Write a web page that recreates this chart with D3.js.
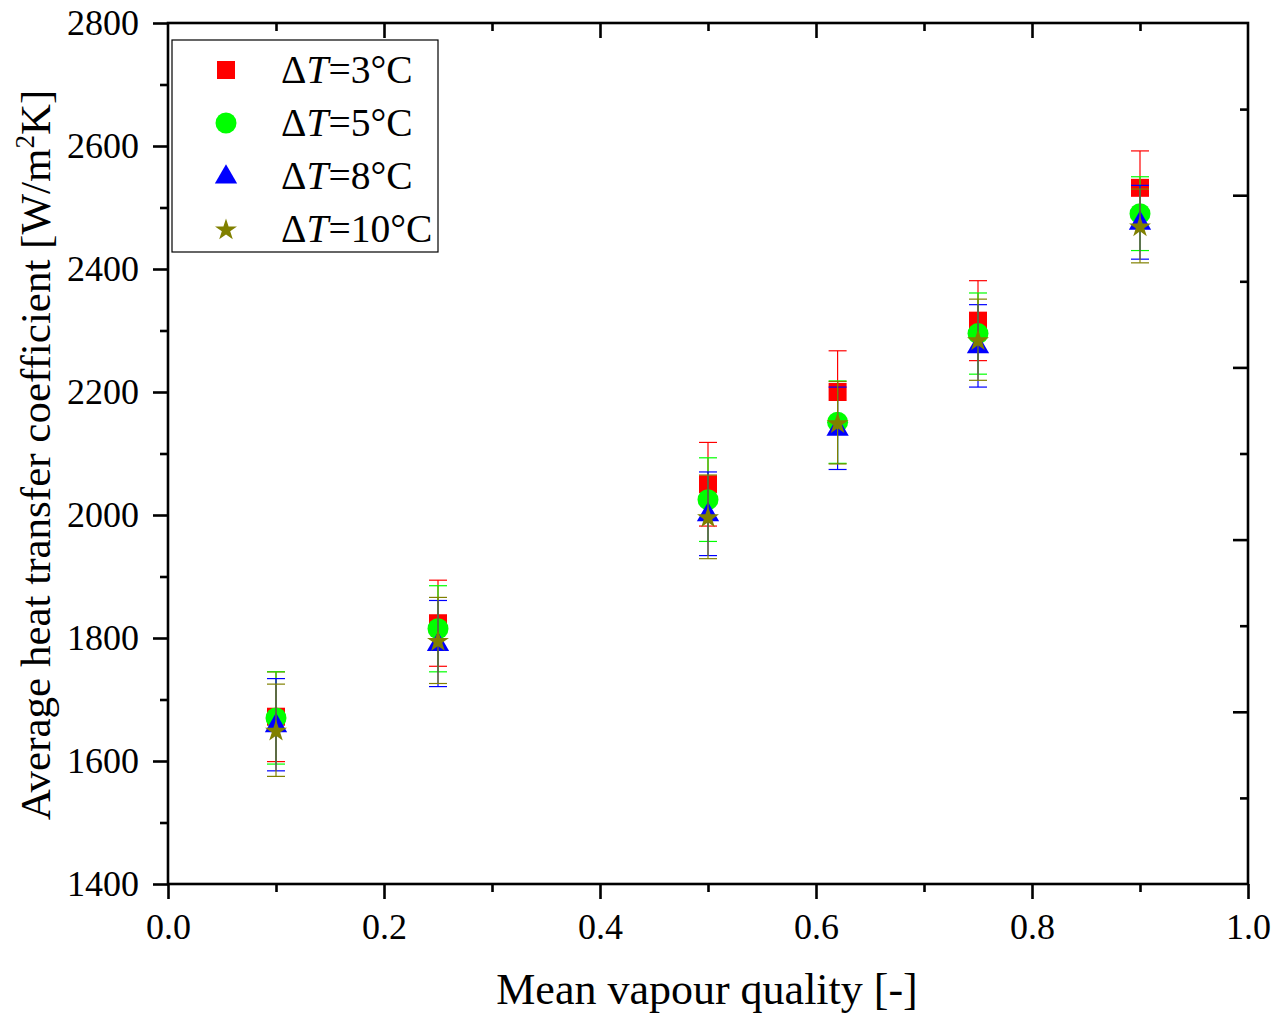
<!DOCTYPE html>
<html>
<head>
<meta charset="utf-8">
<script src="https://cdn.jsdelivr.net/npm/d3@7"></script>
<style>
  html, body { margin: 0; padding: 0; background: #fff; }
  svg { display: block; font-family: "Liberation Serif", "Times New Roman", serif; }
</style>
</head>
<body>
<svg id="chart" width="1287" height="1017"></svg>
<script>
// Mean vapour quality at each measuring point
const quality = [0.1, 0.25, 0.5, 0.62, 0.75, 0.9];

// Average heat transfer coefficient [W/m²K] for each wall superheat
const htc3  = [1672, 1824, 2050, 2200, 2316, 2532];
const htc5  = [1670, 1815, 2025, 2151, 2295, 2490];
const htc8  = [1659, 1791, 2002, 2141, 2275, 2476];
const htc10 = [1650, 1796, 1997, 2150, 2285, 2470];

// Measurement uncertainty (±) of each point
const err3  = [73, 70, 68, 67, 65, 60];
const err5  = [75, 70, 68, 67, 66, 60];
const err8  = [75, 70, 68, 67, 67, 60];
const err10 = [75, 70, 68, 67, 66, 60];

const seriesNames = ["3", "5", "8", "10"];
const xTicks = [0, 0.2, 0.4, 0.6, 0.8, 1.0];
const yTicks = [1400, 1600, 1800, 2000, 2200, 2400, 2600, 2800];

const series = [
  { name: seriesNames[0], y: htc3,  e: err3,  color: "#ff0000", shape: "square" },
  { name: seriesNames[1], y: htc5,  e: err5,  color: "#00ff00", shape: "circle" },
  { name: seriesNames[2], y: htc8,  e: err8,  color: "#0000ff", shape: "triangle" },
  { name: seriesNames[3], y: htc10, e: err10, color: "#808000", shape: "star" }
];

const svg = d3.select("#chart");
const L = 168, R = 1248, T = 23, B = 884;

const x = d3.scaleLinear().domain([0, 1]).range([L, R]);
const y = d3.scaleLinear().domain([1400, 2800]).range([B, T]);
// unlabelled right-hand axis with its own ten divisions
const yRight = d3.scaleLinear().domain([0, 10]).range([B, T]);

const majorLen = 15, minorLen = 8;
const axisW = 2.6;
const tickFont = 36;

function styleAxis(g) {
  g.selectAll(".domain").remove();
  g.selectAll(".tick line").attr("stroke", "#000").attr("stroke-width", axisW);
  g.selectAll(".tick text").attr("fill", "#000")
    .attr("font-size", tickFont).attr("font-family", "Liberation Serif");
}

const xMinor = d3.range(0.1, 1.0, 0.2);
const yMinor = d3.range(1500, 2800, 200);

// bottom axis, outward ticks with labels
svg.append("g").attr("transform", `translate(0,${B})`)
  .call(d3.axisBottom(x).tickValues(xTicks).tickSize(majorLen).tickPadding(14)
    .tickFormat(d3.format(".1f")))
  .call(styleAxis);
svg.append("g").attr("transform", `translate(0,${B})`)
  .call(d3.axisBottom(x).tickValues(xMinor).tickSize(minorLen).tickFormat(""))
  .call(styleAxis);

// top axis, inward ticks
svg.append("g").attr("transform", `translate(0,${T})`)
  .call(d3.axisBottom(x).tickValues(xTicks.slice(1, -1)).tickSize(majorLen).tickFormat(""))
  .call(styleAxis);
svg.append("g").attr("transform", `translate(0,${T})`)
  .call(d3.axisBottom(x).tickValues(xMinor).tickSize(minorLen).tickFormat(""))
  .call(styleAxis);

// left axis, outward ticks with labels
svg.append("g").attr("transform", `translate(${L},0)`)
  .call(d3.axisLeft(y).tickValues(yTicks).tickSize(majorLen).tickPadding(14)
    .tickFormat(d3.format("d")))
  .call(styleAxis);
svg.append("g").attr("transform", `translate(${L},0)`)
  .call(d3.axisLeft(y).tickValues(yMinor).tickSize(minorLen).tickFormat(""))
  .call(styleAxis);

// right axis, inward ticks
svg.append("g").attr("transform", `translate(${R},0)`)
  .call(d3.axisLeft(yRight).tickValues([2, 4, 6, 8]).tickSize(majorLen).tickFormat(""))
  .call(styleAxis);
svg.append("g").attr("transform", `translate(${R},0)`)
  .call(d3.axisLeft(yRight).tickValues([1, 3, 5, 7, 9]).tickSize(minorLen).tickFormat(""))
  .call(styleAxis);

// frame
svg.append("rect").attr("x", L).attr("y", T).attr("width", R - L).attr("height", B - T)
  .attr("fill", "none").attr("stroke", "#000").attr("stroke-width", axisW);

// marker drawing
function drawMarker(g, shape, cx, cy, color) {
  if (shape === "square") {
    g.append("rect").attr("x", cx - 9).attr("y", cy - 9).attr("width", 18).attr("height", 18)
      .attr("fill", color);
  } else if (shape === "circle") {
    g.append("circle").attr("cx", cx).attr("cy", cy).attr("r", 10.5).attr("fill", color);
  } else if (shape === "triangle") {
    g.append("path").attr("d", d3.symbol(d3.symbolTriangle, 215)())
      .attr("transform", `translate(${cx},${cy + 1})`).attr("fill", color);
  } else {
    g.append("path").attr("d", d3.symbol(d3.symbolStar, 150)())
      .attr("transform", `translate(${cx},${cy + 1})`).attr("fill", color);
  }
}

const capW = 9;
series.forEach(s => {
  const g = svg.append("g");
  quality.forEach((q, i) => {
    const cx = x(q), hi = y(s.y[i] + s.e[i]), lo = y(s.y[i] - s.e[i]);
    g.append("line").attr("x1", cx).attr("x2", cx).attr("y1", hi).attr("y2", lo)
      .attr("stroke", s.color).attr("stroke-width", 1.2);
    [hi, lo].forEach(yy => g.append("line")
      .attr("x1", cx - capW).attr("x2", cx + capW).attr("y1", yy).attr("y2", yy)
      .attr("stroke", s.color).attr("stroke-width", 1.2));
  });
  quality.forEach((q, i) => drawMarker(g, s.shape, x(q), y(s.y[i]), s.color));
});

// legend
const lg = svg.append("g");
lg.append("rect").attr("x", 172).attr("y", 40).attr("width", 266).attr("height", 212)
  .attr("fill", "#fff").attr("stroke", "#000").attr("stroke-width", 1.2);
series.forEach((s, i) => {
  const cy = 70 + i * 53;
  drawMarker(lg, s.shape, 226, cy, s.color);
  const t = lg.append("text").attr("x", 281).attr("y", cy + 13)
    .attr("font-size", 39.5).attr("fill", "#000");
  t.append("tspan").text("Δ");
  t.append("tspan").attr("font-style", "italic").text("T");
  t.append("tspan").text(`=${s.name}°C`);
});

// axis titles
svg.append("text").attr("x", 707).attr("y", 1004).attr("text-anchor", "middle")
  .attr("font-size", 44).attr("fill", "#000").text("Mean vapour quality [-]");

const yt = svg.append("text").attr("transform", `translate(50,455) rotate(-90)`)
  .attr("text-anchor", "middle").attr("font-size", 43).attr("fill", "#000");
yt.append("tspan").text("Average heat transfer coefficient [W/m");
yt.append("tspan").attr("font-size", 27).attr("dy", -16).text("2");
yt.append("tspan").attr("dy", 16).text("K]");
</script>
</body>
</html>
